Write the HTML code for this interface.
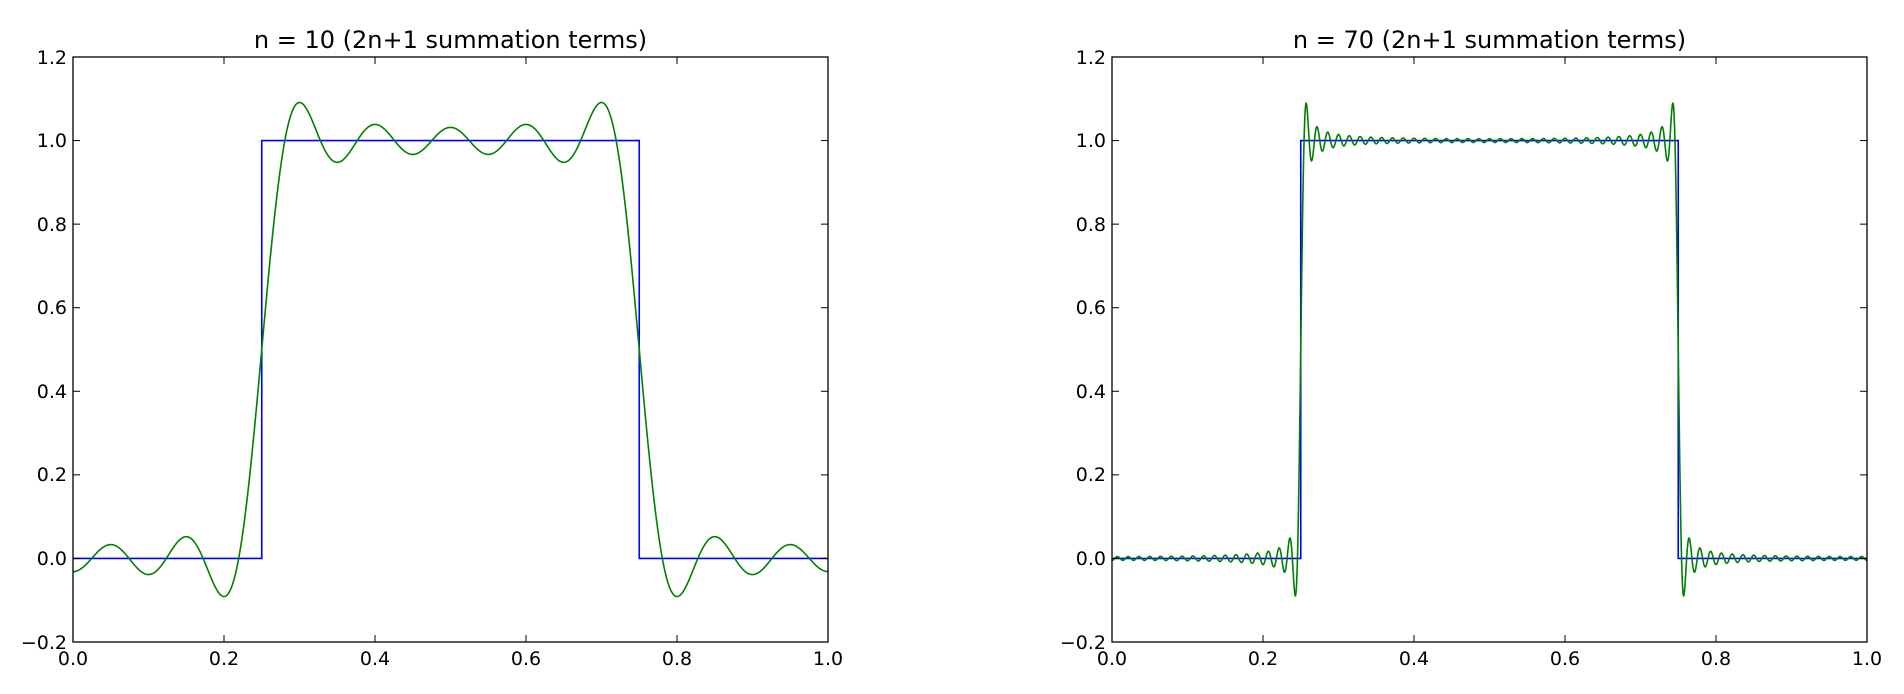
<!DOCTYPE html>
<html><head><meta charset="utf-8"><style>
html,body{margin:0;padding:0;background:#fff;}
svg{display:block;}
text{font-family:"DejaVu Sans","Liberation Sans",sans-serif;fill:#000;}
</style></head><body>
<svg id="s" width="1904" height="694" viewBox="0 0 1904 694" xmlns="http://www.w3.org/2000/svg">
<rect width="1904" height="694" fill="#fff"/>
<g id="g1"></g><g id="g2"></g>
<text x="450.5" y="48" font-size="24" text-anchor="middle">n = 10 (2n+1 summation terms)</text>
<text x="1489.5" y="48" font-size="24" text-anchor="middle">n = 70 (2n+1 summation terms)</text>
<g font-size="19" text-anchor="end">
<text x="67" y="64">1.2</text><text x="67" y="147">1.0</text><text x="67" y="231">0.8</text><text x="67" y="314">0.6</text><text x="67" y="398">0.4</text><text x="67" y="481">0.2</text><text x="67" y="565">0.0</text><text x="67" y="649">−0.2</text>
<text x="1106" y="64">1.2</text><text x="1106" y="147">1.0</text><text x="1106" y="231">0.8</text><text x="1106" y="314">0.6</text><text x="1106" y="398">0.4</text><text x="1106" y="481">0.2</text><text x="1106" y="565">0.0</text><text x="1106" y="649">−0.2</text>
</g>
<g font-size="19" text-anchor="middle">
<text x="73" y="665">0.0</text><text x="224" y="665">0.2</text><text x="375" y="665">0.4</text><text x="526" y="665">0.6</text><text x="677" y="665">0.8</text><text x="828" y="665">1.0</text>
<text x="1112" y="665">0.0</text><text x="1263" y="665">0.2</text><text x="1414" y="665">0.4</text><text x="1565" y="665">0.6</text><text x="1716" y="665">0.8</text><text x="1867" y="665">1.0</text>
</g>
</svg>
<script>
(function(){
var NS="http://www.w3.org/2000/svg";
function el(p,n,a){var e=document.createElementNS(NS,n);for(var k in a)e.setAttribute(k,a[k]);p.appendChild(e);return e;}
var T=57,B=642;
function Y(v){return B-(v+0.2)/1.4*(B-T);}
function draw(gid,L,R,n){
  var g=document.getElementById(gid);
  function X(x){return L+x*(R-L);}
  var d="",N=3000;
  for(var i=0;i<=N;i++){var x=i/N,s=0.5;
    for(var k=1;k<=n;k++){s+=2/(Math.PI*k)*Math.sin(Math.PI*k/2)*Math.cos(2*Math.PI*k*(x-0.5));}
    d+=(i?"L":"M")+X(x).toFixed(2)+","+Y(s).toFixed(2);}
  var b="M"+X(0)+","+Y(0)+"L"+X(0.25)+","+Y(0)+"L"+X(0.25)+","+Y(1)+"L"+X(0.75)+","+Y(1)+"L"+X(0.75)+","+Y(0)+"L"+X(1)+","+Y(0);
  el(g,"path",{d:b,fill:"none",stroke:"#0000ff","stroke-width":1.6});
  el(g,"path",{d:d,fill:"none",stroke:"#008000","stroke-width":1.6});
  el(g,"rect",{x:L,y:T,width:R-L,height:B-T,fill:"none",stroke:"#000","stroke-width":1.3});
  for(var j=0;j<=5;j++){var xx=X(j*0.2);
    el(g,"line",{x1:xx,y1:B,x2:xx,y2:B-7,stroke:"#000","stroke-width":1});
    el(g,"line",{x1:xx,y1:T,x2:xx,y2:T+7,stroke:"#000","stroke-width":1});}
  for(var j=0;j<=7;j++){var yy=Y(-0.2+j*0.2);
    el(g,"line",{x1:L,y1:yy,x2:L+7,y2:yy,stroke:"#000","stroke-width":1});
    el(g,"line",{x1:R,y1:yy,x2:R-7,y2:yy,stroke:"#000","stroke-width":1});}
}
draw("g1",73,828,10);
draw("g2",1112,1867,70);
})();
</script>
</body></html>
